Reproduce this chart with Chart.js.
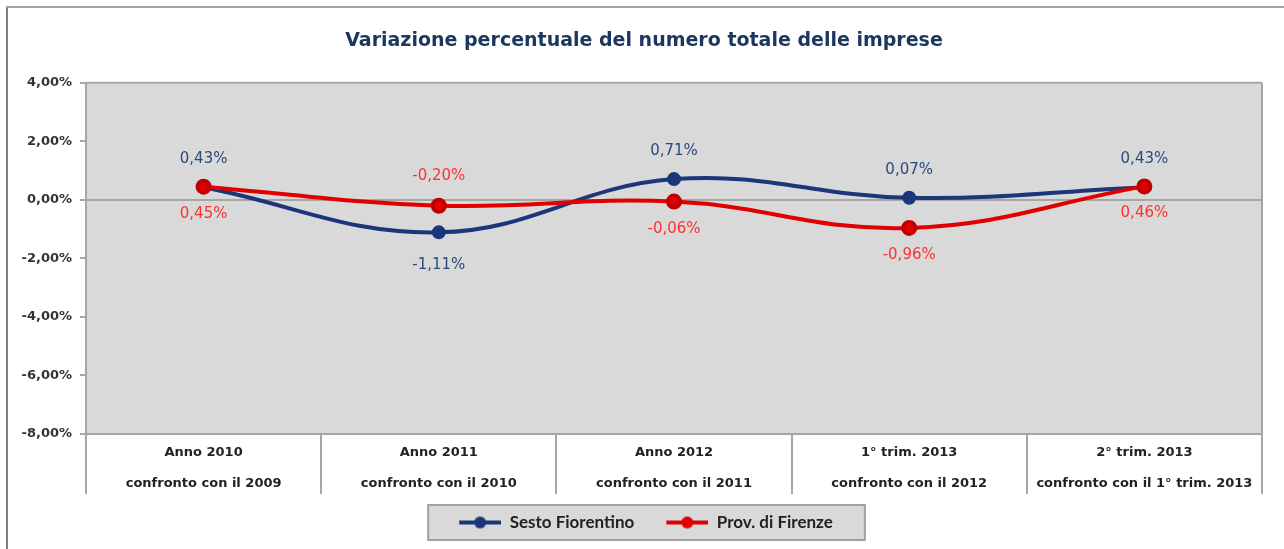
<!DOCTYPE html>
<html>
<head>
<meta charset="utf-8">
<script src="https://cdn.jsdelivr.net/npm/chart.js@4/dist/chart.umd.min.js"></script>
<style>
  html, body { margin: 0; padding: 0; background: #ffffff; }
  #wrap { position: relative; width: 1284px; height: 549px; }
</style>
</head>
<body>
<div id="wrap"><canvas id="c" width="1284" height="549"></canvas></div>
<script>
// ---- data ----
const titleText = 'Variazione percentuale del numero totale delle imprese';
const categories = [
  ['Anno 2010', 'confronto con il 2009'],
  ['Anno 2011', 'confronto con il 2010'],
  ['Anno 2012', 'confronto con il 2011'],
  ['1° trim. 2013', 'confronto con il 2012'],
  ['2° trim. 2013', 'confronto con il 1° trim. 2013']
];
const seriesNames = ['Sesto Fiorentino', 'Prov. di Firenze'];
const sestoValues = [0.43, -1.11, 0.71, 0.07, 0.43];
const firenzeValues = [0.45, -0.20, -0.06, -0.96, 0.46];
const yTicks = [4, 2, 0, -2, -4, -6, -8];

// ---- styles ----
const WIDE = '"DejaVu Sans", Verdana, sans-serif';
const LATO = 'Lato, "Open Sans", "Liberation Sans", sans-serif';
const BLUE = '#1C367A';
const RED = '#E10000';
const BLUE_TXT = '#2A4A7C';
const RED_TXT = '#FF3030';
const GRAY_LINE = '#A6A6A6';
const PLOT_BG = '#D9D9D9';
// label placement (above / below the point)
const sestoLabelPos = ['above', 'below', 'above', 'above', 'above'];
const firenzeLabelPos = ['below', 'above', 'below', 'below', 'below'];

function fmt(v) { return v.toFixed(2).replace('.', ',') + '%'; }

function makeIcon(color) {
  const c = document.createElement('canvas');
  c.width = 64; c.height = 16;
  const g = c.getContext('2d');
  g.strokeStyle = color; g.lineWidth = 4;
  g.beginPath(); g.moveTo(22, 8); g.lineTo(64, 8); g.stroke();
  g.fillStyle = color;
  g.beginPath(); g.arc(43, 8, 6, 0, Math.PI * 2); g.fill();
  return c;
}
const icons = [makeIcon(BLUE), makeIcon(RED)];

const decorPlugin = {
  id: 'decor',
  afterLayout(chart) {
    if (chart.titleBlock) { chart.titleBlock.left += 8; chart.titleBlock.right += 8; }
    if (chart.legend) { chart.legend.left -= 1; chart.legend.right -= 1; }
  },
  beforeDraw(chart) {
    const ctx = chart.ctx;
    const a = chart.chartArea;
    ctx.save();
    // outer frame
    ctx.fillStyle = '#808080';
    ctx.fillRect(6, 6, 2, chart.height - 6);
    ctx.fillStyle = '#A0A0A0';
    ctx.fillRect(6, 6, chart.width - 6, 2);
    // plot background
    ctx.fillStyle = PLOT_BG;
    ctx.fillRect(a.left, a.top, a.right - a.left, a.bottom - a.top);
    // legend box
    const lg = chart.legend;
    if (lg && lg.legendHitBoxes && lg.legendHitBoxes.length) {
      const hb = lg.legendHitBoxes;
      const first = hb[0], last = hb[hb.length - 1];
      const l = first.left - 9, r = last.left + last.width + 32;
      const t = lg.top + 1, b = lg.bottom - 1;
      ctx.fillStyle = '#D9D9D9';
      ctx.fillRect(l, t, r - l, b - t);
      ctx.strokeStyle = '#A0A0A0';
      ctx.lineWidth = 2;
      ctx.strokeRect(l, t, r - l, b - t);
    }
    ctx.restore();
  },
  afterDraw(chart) {
    const ctx = chart.ctx;
    const a = chart.chartArea;
    ctx.save();
    ctx.strokeStyle = GRAY_LINE;
    ctx.lineWidth = 2;
    ctx.beginPath();
    ctx.moveTo(a.left, a.top); ctx.lineTo(a.right, a.top);
    ctx.moveTo(a.right, a.top); ctx.lineTo(a.right, a.bottom + 60);
    ctx.stroke();
    ctx.restore();
  }
};

const labelPlugin = {
  id: 'pointLabels',
  afterDatasetsDraw(chart) {
    const ctx = chart.ctx;
    ctx.save();
    ctx.font = '15px ' + WIDE;
    ctx.textAlign = 'center';
    ctx.textBaseline = 'middle';
    chart.data.datasets.forEach((ds, di) => {
      const meta = chart.getDatasetMeta(di);
      meta.data.forEach((el, i) => {
        const pos = ds.labelPos[i];
        const dy = pos === 'above' ? -ds.labelGap[0] : ds.labelGap[1];
        ctx.fillStyle = ds.labelColor;
        ctx.fillText(fmt(ds.data[i]), el.x, el.y + dy);
      });
    });
    ctx.restore();
  }
};

new Chart(document.getElementById('c'), {
  type: 'line',
  data: {
    labels: categories,
    datasets: [
      {
        label: seriesNames[0],
        data: sestoValues,
        borderColor: BLUE,
        backgroundColor: BLUE,
        borderWidth: 4,
        pointRadius: 5,
        pointBackgroundColor: BLUE,
        pointBorderColor: BLUE,
        tension: 0.4,
        order: 1,
        labelPos: sestoLabelPos,
        labelGap: [28, 33],
        labelColor: BLUE_TXT
      },
      {
        label: seriesNames[1],
        data: firenzeValues,
        borderColor: RED,
        backgroundColor: RED,
        borderWidth: 4,
        pointRadius: 6,
        pointBackgroundColor: RED,
        pointBorderColor: '#C00000',
        tension: 0.4,
        order: 0,
        labelPos: firenzeLabelPos,
        labelGap: [30, 27],
        labelColor: RED_TXT
      }
    ]
  },
  options: {
    responsive: false,
    animation: false,
    layout: { padding: { left: 10, right: 22, top: 0, bottom: 8 } },
    plugins: {
      tooltip: { enabled: false },
      title: {
        display: true,
        text: titleText,
        color: '#1B365F',
        font: { family: WIDE, size: 19, weight: 'bold', lineHeight: 1.2 },
        padding: { top: 30, bottom: 30 }
      },
      legend: {
        display: true,
        position: 'bottom',
        labels: {
          usePointStyle: true,
          pointStyleWidth: 64,
          boxHeight: 16,
          padding: 10,
          color: '#222222',
          font: { family: LATO, size: 17, weight: 'bold' },
          sort: (a, b) => a.datasetIndex - b.datasetIndex,
          generateLabels: (chart) => {
            const items = Chart.defaults.plugins.legend.labels.generateLabels(chart);
            return items.map(it => Object.assign({}, it, { pointStyle: icons[it.datasetIndex] }));
          }
        }
      }
    },
    scales: {
      x: {
        type: 'category',
        offset: true,
        grid: { offset: true, drawOnChartArea: false, tickLength: 60, color: GRAY_LINE, lineWidth: 2 },
        border: { display: true, color: GRAY_LINE, width: 2 },
        ticks: {
          color: '#222222',
          font: { family: WIDE, size: 13, weight: 'bold', lineHeight: 2.38 },
          padding: -57,
          maxRotation: 0,
          autoSkip: false
        },
        afterFit: (s) => { s.height = 70; }
      },
      y: {
        min: Math.min(...yTicks),
        max: Math.max(...yTicks),
        afterBuildTicks: (s) => { s.ticks = yTicks.map(v => ({ value: v })); },
        ticks: {
          callback: (v) => fmt(v),
          color: '#333333',
          font: { family: WIDE, size: 13, weight: 'bold' },
          padding: 8
        },
        grid: {
          drawOnChartArea: true,
          color: (c) => (c.tick && c.tick.value === 0) ? GRAY_LINE : 'rgba(0,0,0,0)',
          tickColor: GRAY_LINE,
          tickLength: 6,
          lineWidth: 2
        },
        border: { display: true, color: GRAY_LINE, width: 2 },
        afterFit: (s) => { s.width = 76; }
      }
    }
  },
  plugins: [decorPlugin, labelPlugin]
});
</script>
</body>
</html>
